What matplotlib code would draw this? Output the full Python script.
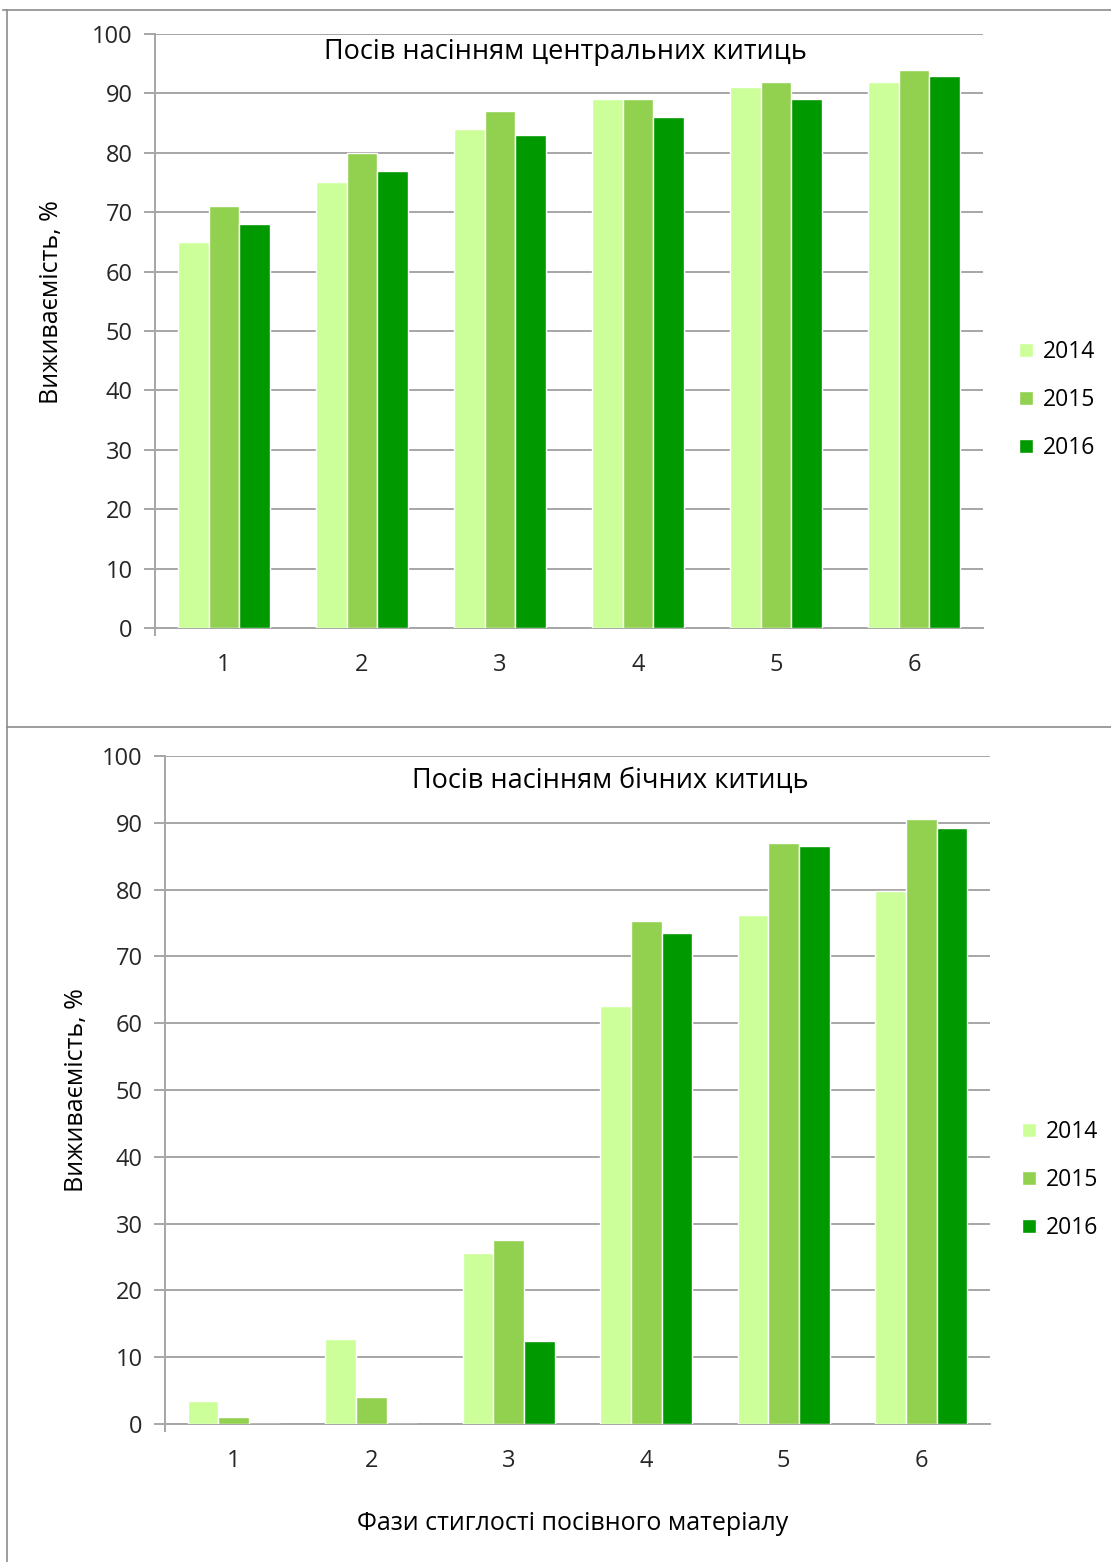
import matplotlib
matplotlib.use("Agg")
import matplotlib.pyplot as plt
from matplotlib.lines import Line2D
import numpy as np

plt.rcParams['font.family'] = ['Open Sans', 'DejaVu Sans']

phases = ["1", "2", "3", "4", "5", "6"]
years = ["2014", "2015", "2016"]
colors = ["#CCFF99", "#92D050", "#009900"]

central_2014 = [65, 75, 84, 89, 91, 92]
central_2015 = [71, 80, 87, 89, 92, 94]
central_2016 = [68, 77, 83, 86, 89, 93]

lateral_2014 = [3.4, 12.7, 25.6, 62.6, 76.2, 79.8]
lateral_2015 = [1.0, 4.0, 27.5, 75.3, 87.0, 90.6]
lateral_2016 = [0.0, 0.0, 12.4, 73.5, 86.5, 89.2]

W, H = 1111, 1562
fig = plt.figure(figsize=(W / 100, H / 100), dpi=100)

grid_col = "#A6A6A6"
txt_col = "#262626"


def panel(rect, series, title, title_xy, ylabel_x, legend_xy):
    ax = fig.add_axes(rect)
    x = np.arange(len(phases))
    w = 1 / 4.5
    for i, (vals, c, lab) in enumerate(zip(series, colors, years)):
        ax.bar(x + (i - 1) * w, vals, width=w, color=c, edgecolor="white",
               linewidth=1.0, label=lab, zorder=3)
    ax.set_xlim(-0.5, len(phases) - 0.5)
    ax.set_ylim(0, 100)
    ax.set_yticks(np.arange(0, 101, 10))
    ax.set_xticks(x)
    ax.set_xticklabels(phases)
    ax.yaxis.grid(True, color=grid_col, linewidth=1.4, zorder=0)
    ax.set_axisbelow(True)
    for s in ("top", "right"):
        ax.spines[s].set_visible(False)
    for s in ("left", "bottom"):
        ax.spines[s].set_color(grid_col)
        ax.spines[s].set_linewidth(1.4)
    ax.tick_params(axis="y", length=8, width=1.4, color=grid_col,
                   labelsize=17, labelcolor=txt_col, pad=8)
    ax.tick_params(axis="x", length=0, labelsize=17, labelcolor=txt_col, pad=18)
    ax.set_xticks([-0.5], minor=True)
    ax.tick_params(axis="x", which="minor", length=6, width=1.4, color=grid_col)
    fig.text(title_xy[0], title_xy[1], title,
             ha="center", va="center", fontsize=19.5, color="black")
    fig.text(ylabel_x[0], ylabel_x[1], "Виживаємість, %", rotation=90,
             ha="center", va="center", fontsize=18, color="black")
    ax.legend(loc="center left", bbox_to_anchor=legend_xy,
              bbox_transform=fig.transFigure, frameon=False, fontsize=16.5,
              handlelength=0.6, handleheight=0.6, handletextpad=0.45,
              labelspacing=1.05, borderpad=0, borderaxespad=0)
    return ax


panel([155 / W, 1 - 628 / H, (983 - 155) / W, (628 - 34) / H],
      [central_2014, central_2015, central_2016],
      "Посів насінням центральних китиць", (565 / W, 1 - 52 / H),
      (52 / W, 1 - 302 / H), (1019 / W, 1 - 400 / H))

panel([165 / W, 1 - 1424 / H, (990 - 165) / W, (1424 - 756) / H],
      [lateral_2014, lateral_2015, lateral_2016],
      "Посів насінням бічних китиць", (610 / W, 1 - 781 / H),
      (76 / W, 1 - 1090 / H), (1022 / W, 1 - 1180 / H))

fig.text(573 / W, 1 - 1524 / H, "Фази стиглості посівного матеріалу",
         ha="center", va="center", fontsize=18, color="black")

# frame lines around the two panels
frame_col = "#8C8C8C"
fig.add_artist(Line2D([7 / W, 7 / W], [0, 1 - 10 / H], transform=fig.transFigure,
                      color=frame_col, linewidth=1.2))
fig.add_artist(Line2D([3 / W, 1], [1 - 10 / H, 1 - 10 / H], transform=fig.transFigure,
                      color=frame_col, linewidth=1.2))
fig.add_artist(Line2D([7 / W, 1], [1 - 727 / H, 1 - 727 / H], transform=fig.transFigure,
                      color=frame_col, linewidth=1.2))

fig.savefig("out.png", dpi=100, facecolor="white")
